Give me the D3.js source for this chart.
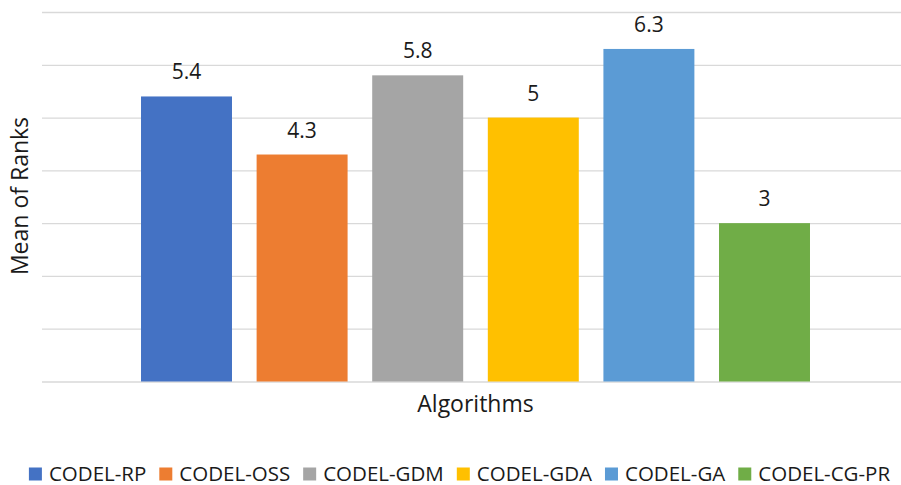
<!DOCTYPE html>
<html><head><meta charset="utf-8">
<script src="https://cdn.jsdelivr.net/npm/d3@7"></script>
<style>body{margin:0;background:#fff}svg{display:block;font-family:"Open Sans",sans-serif}</style>
</head><body>
<script>
const categories = ["Algorithms"];
const seriesNames = ["CODEL-RP","CODEL-OSS","CODEL-GDM","CODEL-GDA","CODEL-GA","CODEL-CG-PR"];
const seriesValues = [5.4, 4.3, 5.8, 5, 6.3, 3];
const seriesColors = ["#4472c4","#ed7d31","#a5a5a5","#ffc000","#5b9bd5","#70ad47"];
const yTicks = [0,1,2,3,4,5,6,7];

const W = 901, H = 485;
const svg = d3.select("body").append("svg").attr("width", W).attr("height", H);

const x0 = d3.scaleBand().domain(categories).range([42, 909]).paddingOuter(0.125).paddingInner(0);
const x1 = d3.scaleBand().domain(seriesNames).range([0, x0.bandwidth()]).paddingInner(0.213).paddingOuter(0.1065);
const y = d3.scaleLinear().domain([0, 7]).range([381.5, 12]);

// gridlines
const yAxis = d3.axisLeft(y).tickValues(yTicks).tickSize(-(909 - 42)).tickFormat("");
const gy = svg.append("g").attr("transform", "translate(42,0)").call(yAxis);
gy.select(".domain").remove();
gy.selectAll(".tick line").attr("stroke", "#d9d9d9").attr("stroke-width", 1.3);

const g = svg.append("g").selectAll("g").data(categories).join("g")
  .attr("transform", d => `translate(${x0(d)},0)`);

const data = seriesNames.map((s, i) => ({s, v: seriesValues[i], c: seriesColors[i]}));
g.selectAll("rect").data(data).join("rect")
  .attr("x", d => x1(d.s)).attr("width", x1.bandwidth())
  .attr("y", d => y(d.v)).attr("height", d => y(0) - y(d.v))
  .attr("fill", d => d.c);

g.selectAll("text.val").data(data).join("text").attr("class", "val")
  .attr("x", d => x1(d.s) + x1.bandwidth() / 2).attr("y", d => y(d.v) - 17)
  .attr("text-anchor", "middle").attr("font-size", 21).attr("fill", "#1a1a1a")
  .text(d => d.v);

// x axis title
svg.append("text").attr("x", x0(categories[0]) + x0.bandwidth() / 2).attr("y", 412)
  .attr("text-anchor", "middle").attr("font-size", 23).attr("fill", "#1a1a1a").text(categories[0]);

// y axis title
svg.append("text").attr("transform", "translate(28,196) rotate(-90)")
  .attr("text-anchor", "middle").attr("font-size", 23).attr("fill", "#1a1a1a").text("Mean of Ranks");

// legend
const leg = svg.append("g");
const items = leg.selectAll("g").data(data).join("g");
items.append("rect").attr("width", 13).attr("height", 13).attr("y", 467.5).attr("fill", d => d.c);
items.append("text").attr("x", 20).attr("y", 480.5).attr("font-size", 20.5).attr("fill", "#1a1a1a").text(d => d.s);
let cx = 0;
items.each(function() {
  const w = this.querySelector("text").getComputedTextLength();
  d3.select(this).attr("transform", `translate(${cx},0)`);
  cx += 20 + w + 13;
});
const total = cx - 13;
leg.attr("transform", `translate(${(33 + 886) / 2 - total / 2},0)`);
</script>
</body></html>
